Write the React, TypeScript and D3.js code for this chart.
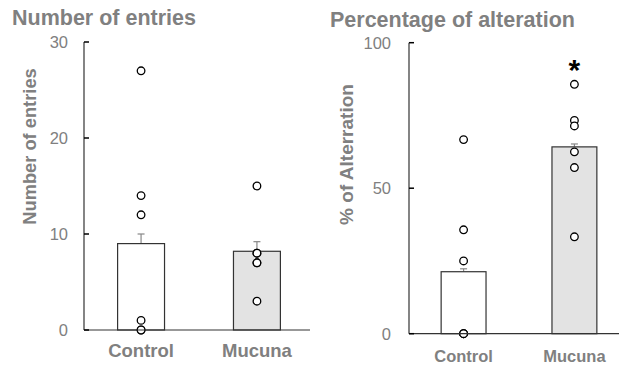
import React from "react";
import * as d3 from "d3";

const groups = ["Control", "Mucuna"];

const entriesMean = [9.0, 8.2];
const entriesSem = [1.0, 1.0];
const entriesPoints = [
  [27, 14, 12, 1, 0, 0],
  [15, 8, 8, 7, 7, 3],
];
const entriesTicks = [0, 10, 20, 30];

const altMean = [21.3, 64.2];
const altSem = [1.0, 1.0];
const altPoints = [
  [66.7, 35.7, 25, 0, 0, 0],
  [85.7, 73.3, 71.4, 62.5, 57.1, 33.3],
];
const altTicks = [0, 50, 100];

const grey = "#808080";
const font = "Liberation Sans, Arial, sans-serif";

type PanelProps = {
  title: string;
  yLabel: string;
  means: number[];
  sems: number[];
  points: number[][];
  ticks: number[];
  yMax: number;
  left: number;
  right: number;
  bandRight: number;
  top: number;
  bottom: number;
  titleX: number;
  titleY: number;
  yLabelX: number;
  yLabelY: number;
  yLabelSize: number;
  catSize: number;
  catY: number;
  tickGap: number;
  star?: boolean;
};

function Panel(p: PanelProps) {
  const y = d3.scaleLinear().domain([0, p.yMax]).range([p.bottom, p.top]);
  const x = d3
    .scaleBand()
    .domain(groups)
    .range([p.left, p.bandRight])
    .paddingInner(0.595)
    .paddingOuter(0.29);
  const bw = x.bandwidth();
  return (
    <g>
      <text x={p.titleX} y={p.titleY} fill={grey} fontFamily={font} fontWeight="bold" fontSize={21.5}>
        {p.title}
      </text>
      <text
        transform={`translate(${p.yLabelX},${p.yLabelY}) rotate(-90)`}
        textAnchor="middle"
        fill={grey}
        fontFamily={font}
        fontWeight="bold"
        fontSize={p.yLabelSize}
      >
        {p.yLabel}
      </text>
      {groups.map((g, i) => {
        const cx = x(g)! + bw / 2;
        const top = y(p.means[i] + p.sems[i]);
        return (
          <g key={g}>
            <line x1={cx} x2={cx} y1={y(p.means[i])} y2={top} stroke="#888" strokeWidth={1.2} />
            <line x1={cx - 3.5} x2={cx + 3.5} y1={top} y2={top} stroke="#888" strokeWidth={1.2} />
            <rect
              x={x(g)}
              y={y(p.means[i])}
              width={bw}
              height={p.bottom - y(p.means[i])}
              fill={i === 0 ? "#ffffff" : "#e3e3e3"}
              stroke="#333"
              strokeWidth={1.2}
            />
            {p.points[i].map((v, j) => (
              <circle key={j} cx={cx} cy={y(v)} r={3.8} fill="#fff" stroke="#000" strokeWidth={1.3} />
            ))}
            <text x={cx} y={p.catY} textAnchor="middle" fill={grey} fontFamily={font} fontWeight="bold" fontSize={p.catSize}>
              {g}
            </text>
          </g>
        );
      })}
      {p.star && (
        <text x={x("Mucuna")! + bw / 2} y={80} textAnchor="middle" fontFamily={font} fontWeight="bold" fontSize={30}>
          *
        </text>
      )}
      <line x1={p.left} x2={p.left} y1={p.top} y2={p.bottom} stroke="#333" strokeWidth={1.2} />
      <line x1={p.left} x2={p.right} y1={p.bottom} y2={p.bottom} stroke="#333" strokeWidth={1.2} />
      {p.ticks.map((t) => (
        <g key={t}>
          <line x1={p.left} x2={p.left + 5} y1={y(t)} y2={y(t)} stroke="#000" strokeWidth={1.5} />
          <text x={p.left - p.tickGap} y={y(t)} dy="0.36em" textAnchor="end" fill={grey} fontFamily={font} fontSize={16.5}>
            {t}
          </text>
        </g>
      ))}
    </g>
  );
}

export default function App() {
  return (
    <svg width={619} height={365} style={{ position: "absolute", left: 0, top: 0, background: "#fff" }}>
      <Panel
        title="Number of entries"
        yLabel="Number of entries"
        means={entriesMean}
        sems={entriesSem}
        points={entriesPoints}
        ticks={entriesTicks}
        yMax={30}
        left={84}
        right={310}
        bandRight={314}
        top={42}
        bottom={330}
        titleX={12}
        titleY={25}
        yLabelX={36}
        yLabelY={146.5}
        yLabelSize={18.3}
        catSize={18.5}
        catY={357}
        tickGap={16}
        />
      <Panel
        title="Percentage of alteration"
        yLabel="% of Alterration"
        means={altMean}
        sems={altSem}
        points={altPoints}
        ticks={altTicks}
        yMax={100}
        left={409}
        right={619}
        bandRight={629}
        top={42.7}
        bottom={333.7}
        titleX={330}
        titleY={26.7}
        yLabelX={353}
        yLabelY={154.5}
        yLabelSize={19}
        catSize={16.5}
        catY={362}
        tickGap={18}
        star
      />
    </svg>
  );
}
